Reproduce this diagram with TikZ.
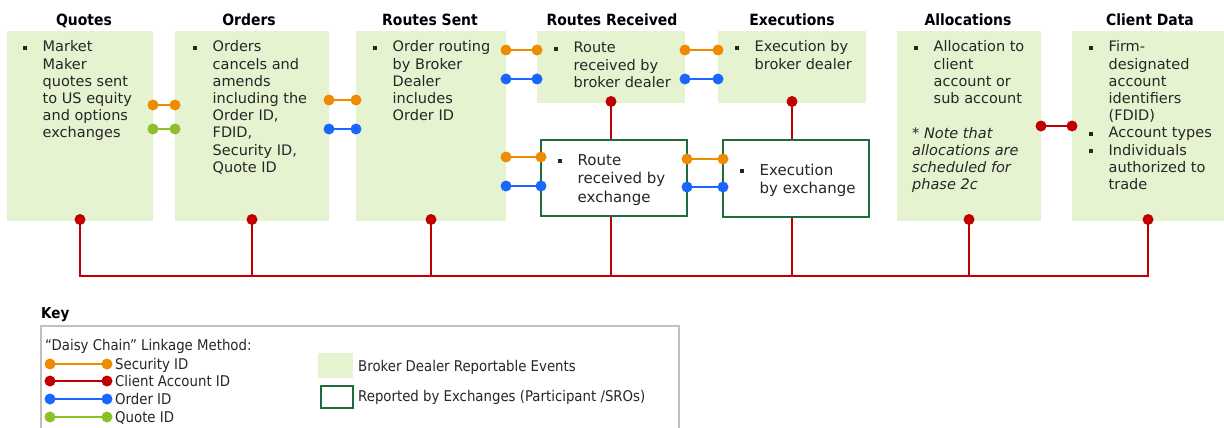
\documentclass[tikz,border=0pt]{standalone}
\usepackage{fontspec}
\setmainfont{DejaVu Sans}
\newfontfamily\condfont{DejaVu Sans Condensed}
\usetikzlibrary{calc}
\definecolor{bdfill}{HTML}{E5F3D1}
\definecolor{exbord}{HTML}{1E6B3C}
\definecolor{cOrange}{HTML}{EE8B00}
\definecolor{cRed}{HTML}{C00000}
\definecolor{cBlue}{HTML}{1A66FF}
\definecolor{cGreen}{HTML}{8CBF2A}
\definecolor{txt}{HTML}{262626}
\definecolor{keybord}{HTML}{BFBFBF}
\newcommand{\bitem}{\par\hangindent=19.5pt\hangafter=1\noindent\makebox[19.5pt][l]{\rule[2pt]{4pt}{4pt}}\ignorespaces}
\newcommand{\dchain}[3]{\draw[#1,line width=1.7pt] #2 -- #3; \fill[#1] #2 circle (5.5pt) #3 circle (5.5pt);}
\begin{document}
\begin{tikzpicture}[x=1pt,y=-1pt,
  bdbox/.style={fill=bdfill,draw=none,inner sep=0pt,outer sep=0pt,anchor=north west},
  exbox/.style={fill=white,draw=exbord,line width=1.3pt,inner sep=0pt,outer sep=0pt,anchor=north west},
  ttl/.style={font=\condfont\bfseries\fontsize{15.5}{18}\selectfont,text=black,anchor=base,inner sep=0pt},
  body/.style={font=\fontsize{14.5}{17.2}\selectfont,text=txt,anchor=base west,inner sep=0pt},
  bodyx/.style={font=\fontsize{15}{18.5}\selectfont,text=txt,anchor=base west,inner sep=0pt},
  keytxt/.style={font=\condfont\fontsize{14.8}{17.5}\selectfont,text=txt,anchor=base west,inner sep=0pt},
  redline/.style={draw=cRed,line width=1.8pt}]
\clip (0,0) rectangle (1224,428);
\fill[white] (0,0) rectangle (1224,428);
% titles
\node[ttl] (tq) at (84,26) {Quotes};
\node[ttl] (to) at (249,26) {Orders};
\node[ttl] (ts) at (430,26) {Routes Sent};
\node[ttl] (tr) at (612,26) {Routes Received};
\node[ttl] (te) at (792,26) {Executions};
\node[ttl] (ta) at (968,26) {Allocations};
\node[ttl] (tc) at (1150,26) {Client Data};
% green boxes
\node[bdbox,minimum width=146pt,minimum height=190pt] (quotes) at (7,31) {};
\node[bdbox,minimum width=154pt,minimum height=190pt] (orders) at (175,31) {};
\node[bdbox,minimum width=150pt,minimum height=190pt] (rsent) at (356,31) {};
\node[bdbox,minimum width=148pt,minimum height=72pt] (rrecv) at (537,31) {};
\node[bdbox,minimum width=148pt,minimum height=72pt] (exec) at (718,31) {};
\node[bdbox,minimum width=144pt,minimum height=190pt] (alloc) at (897,31) {};
\node[bdbox,minimum width=152pt,minimum height=190pt] (client) at (1072,31) {};
% red bus
\draw[redline] (quotes.south) -- (quotes.south |- 0,276) -| (client.south);
\draw[redline] (orders.south) -- (orders.south |- 0,276);
\draw[redline] (rsent.south) -- (rsent.south |- 0,276);
\draw[redline] (rrecv.south) -- (rrecv.south |- 0,276);
\draw[redline] (exec.south) -- (exec.south |- 0,276);
\draw[redline] (alloc.south) -- (alloc.south |- 0,276);
\foreach \n in {quotes,orders,rsent,rrecv,exec,alloc,client}
  \fill[cRed] ($(\n.south)+(0,-1.5)$) circle (5.5pt);
% exchange boxes
\node[exbox,minimum width=146pt,minimum height=76pt] (rexch) at (541,140) {};
\node[exbox,minimum width=146pt,minimum height=77pt] (eexch) at (723,140) {};
% chains
\dchain{cOrange}{(quotes.east |- 0,105)}{(orders.west |- 0,105)}
\dchain{cGreen}{(quotes.east |- 0,129)}{(orders.west |- 0,129)}
\dchain{cOrange}{(orders.east |- 0,100)}{(rsent.west |- 0,100)}
\dchain{cBlue}{(orders.east |- 0,129)}{(rsent.west |- 0,129)}
\dchain{cOrange}{(rsent.east |- 0,50)}{(rrecv.west |- 0,50)}
\dchain{cBlue}{(rsent.east |- 0,79)}{(rrecv.west |- 0,79)}
\dchain{cOrange}{(rsent.east |- 0,157)}{(rexch.west |- 0,157)}
\dchain{cBlue}{(rsent.east |- 0,186)}{(rexch.west |- 0,186)}
\dchain{cOrange}{(rrecv.east |- 0,50)}{(exec.west |- 0,50)}
\dchain{cBlue}{(rrecv.east |- 0,79)}{(exec.west |- 0,79)}
\dchain{cOrange}{(rexch.east |- 0,159)}{(eexch.west |- 0,159)}
\dchain{cBlue}{(rexch.east |- 0,187)}{(eexch.west |- 0,187)}
\dchain{cRed}{(alloc.east |- 0,126)}{(client.west |- 0,126)}
% texts
\node[body] (xq) at (23,52) {\parbox[t]{160pt}{\raggedright\bitem Market\newline Maker\newline quotes sent\newline to US equity\newline and options\newline exchanges}};
\node[body] (xo) at (193,52) {\parbox[t]{160pt}{\raggedright\bitem Orders\newline cancels and\newline amends\newline including the\newline Order ID,\newline FDID,\newline Security ID,\newline Quote ID}};
\node[body] (xs) at (373,52) {\parbox[t]{160pt}{\raggedright\bitem Order routing\newline by Broker\newline Dealer\newline includes\newline Order ID}};
\node[body] (xr) at (554,53) {\parbox[t]{160pt}{\raggedright\bitem Route\newline received by\newline broker dealer}};
\node[body] (xe) at (735,52) {\parbox[t]{160pt}{\raggedright\bitem Execution by\newline broker dealer}};
\node[bodyx] (xre) at (558,165) {\parbox[t]{160pt}{\raggedright\bitem Route\newline received by\newline exchange}};
\node[bodyx] (xee) at (740,175) {\parbox[t]{160pt}{\raggedright\bitem Execution\newline by exchange}};
\node[body] (xa) at (914,52) {\parbox[t]{160pt}{\raggedright\bitem Allocation to\newline client\newline account or\newline sub account}};
\node[body,font=\itshape\fontsize{14.5}{17.2}\selectfont] (xan) at (912,138) {\parbox[t]{160pt}{\raggedright * Note that\newline allocations are\newline scheduled for\newline phase 2c}};
\node[body] (xc) at (1089,52) {\parbox[t]{160pt}{\raggedright\bitem Firm-\newline designated\newline account\newline identifiers\newline (FDID)\bitem Account types\bitem Individuals\newline authorized to\newline trade}};
% key
\node[font=\condfont\bfseries\fontsize{15}{18}\selectfont,anchor=base west,inner sep=0pt] (keyt) at (41,318) {Key};
\node[draw=keybord,line width=1.5pt,minimum width=638pt,minimum height=130pt,anchor=north west,inner sep=0pt] (keybox) at (40,325) {};
\node[keytxt] (daisy) at (45,350) {“Daisy Chain” Linkage Method:};
\dchain{cOrange}{($(keybox.west |- 0,364)+(10,0)$)}{($(keybox.west |- 0,364)+(67,0)$)}
\node[keytxt] (k1) at (115,369) {Security ID};
\dchain{cRed}{($(keybox.west |- 0,381)+(10,0)$)}{($(keybox.west |- 0,381)+(67,0)$)}
\node[keytxt] (k2) at (115,386) {Client Account ID};
\dchain{cBlue}{($(keybox.west |- 0,399)+(10,0)$)}{($(keybox.west |- 0,399)+(67,0)$)}
\node[keytxt] (k3) at (115,404) {Order ID};
\dchain{cGreen}{($(keybox.west |- 0,417)+(10,0)$)}{($(keybox.west |- 0,417)+(67,0)$)}
\node[keytxt] (k4) at (115,422) {Quote ID};
\node[bdbox,minimum width=35pt,minimum height=25pt] (kg) at (318,353) {};
\node[keytxt] (kgt) at (358,371) {Broker Dealer Reportable Events};
\node[draw=exbord,line width=2.5pt,minimum width=32pt,minimum height=22pt,anchor=north west,inner sep=0pt] (kx) at (319.5,384.5) {};
\node[keytxt] (kxt) at (358,401) {Reported by Exchanges (Participant /SROs)};
\end{tikzpicture}
\end{document}
